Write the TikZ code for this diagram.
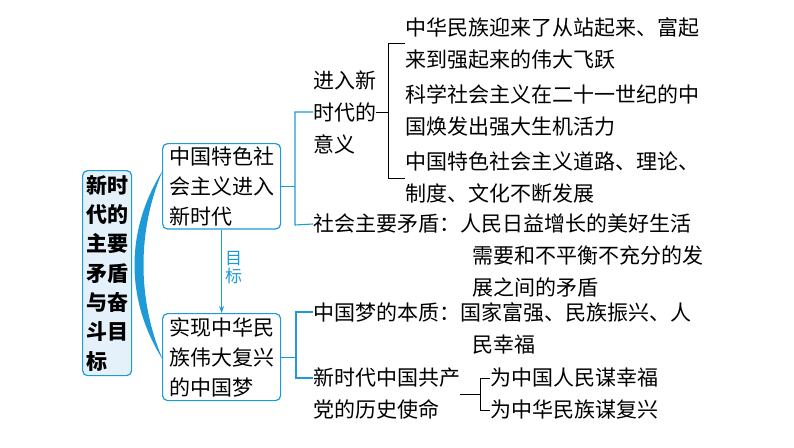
\documentclass[tikz,border=0pt]{standalone}
\usepackage{fontspec}
\setmainfont{Noto Sans CJK SC}
\usetikzlibrary{arrows.meta}
\definecolor{bl}{HTML}{1E9AD6}
\definecolor{lb}{HTML}{E4F1FA}
\tikzset{
  txt/.style={anchor=west,inner sep=0pt,font=\fontsize{21}{32}\selectfont,align=left},
  bx/.style={draw=bl,line width=1.2pt,rounded corners=5pt,fill=white,inner sep=3pt,font=\fontsize{21}{30}\selectfont,align=left},
  bline/.style={bl,line width=1.1pt},
  kline/.style={black,line width=0.9pt}
}
\begin{document}
\begin{tikzpicture}[x=1pt,y=-1pt]
\useasboundingbox (0,0) rectangle (794,447);
% root
\node[bx,fill=lb,minimum width=49pt,minimum height=205pt,anchor=north west,font=\bfseries\fontsize{21}{29.3}\selectfont,inner sep=2pt] (root) at (82,170) {新时\\代的\\主要\\矛盾\\与奋\\斗目\\标};
% crescent
\fill[bl] (163,170) .. controls (125,230) and (125,300) .. (163,360)
  .. controls (137,300) and (137,230) .. (163,170) -- cycle;
\node[bx,minimum width=118pt,minimum height=85pt,anchor=north west] (b1) at (162,143) {中国特色社\\会主义进入\\新时代};
\node[bx,minimum width=118pt,minimum height=87pt,anchor=north west] (b2) at (162,313) {实现中华民\\族伟大复兴\\的中国梦};
\draw[bline,-{Stealth[length=7pt,width=5pt]}] (b1.south) -- (b2.north) node[pos=0.45,right=3pt,font=\fontsize{17}{18}\selectfont,align=center,inner sep=0pt] (goal) {目\\标};
% texts
\node[txt] (yi) at (313,112) {进入新\\时代的\\意义};
\node[txt] (i1) at (405,43) {中华民族迎来了从站起来、富起\\来到强起来的伟大飞跃};
\node[txt] (i2) at (405,111) {科学社会主义在二十一世纪的中\\国焕发出强大生机活力};
\node[txt] (i3) at (405,178) {中国特色社会主义道路、理论、\\制度、文化不断发展};
\node[txt] (m1) at (313,224) {社会主要矛盾：人民日益增长的美好生活};
\node[txt] (m2) at (472,272) {需要和不平衡不充分的发\\展之间的矛盾};
\node[txt] (d1) at (313,312) {中国梦的本质：国家富强、民族振兴、人};
\node[txt] (d2) at (472,345) {民幸福};
\node[txt] (s1) at (313,394) {新时代中国共产\\党的历史使命};
\node[txt] (w1) at (490,378) {为中国人民谋幸福};
\node[txt] (w2) at (490,410) {为中华民族谋复兴};
% blue brackets
\coordinate (c1) at (295,112); \coordinate (c2) at (295,225);
\draw[bline] (b1.east) -- (b1.east -| c1);
\draw[bline] (yi.west) -- (c1) -- (c2) -- (m1.west);
\coordinate (e1) at (296,312); \coordinate (e2) at (296,378);
\draw[bline] (b2.east) -- (b2.east -| e1);
\draw[bline] (d1.west) -- (e1) -- (e2) -- (313,378);
% black brackets
\coordinate (k1) at (388,43); \coordinate (k2) at (388,178);
\draw[kline] (yi.east) -- (yi.east -| k1);
\draw[kline] (i1.west) -- (k1) -- (k2) -- (i3.west);
\coordinate (j1) at (480,378); \coordinate (j2) at (480,410);
\draw[kline] (s1.east) -- (s1.east -| j1);
\draw[kline] (w1.west) -- (j1) -- (j2) -- (w2.west);
\end{tikzpicture}
\end{document}
